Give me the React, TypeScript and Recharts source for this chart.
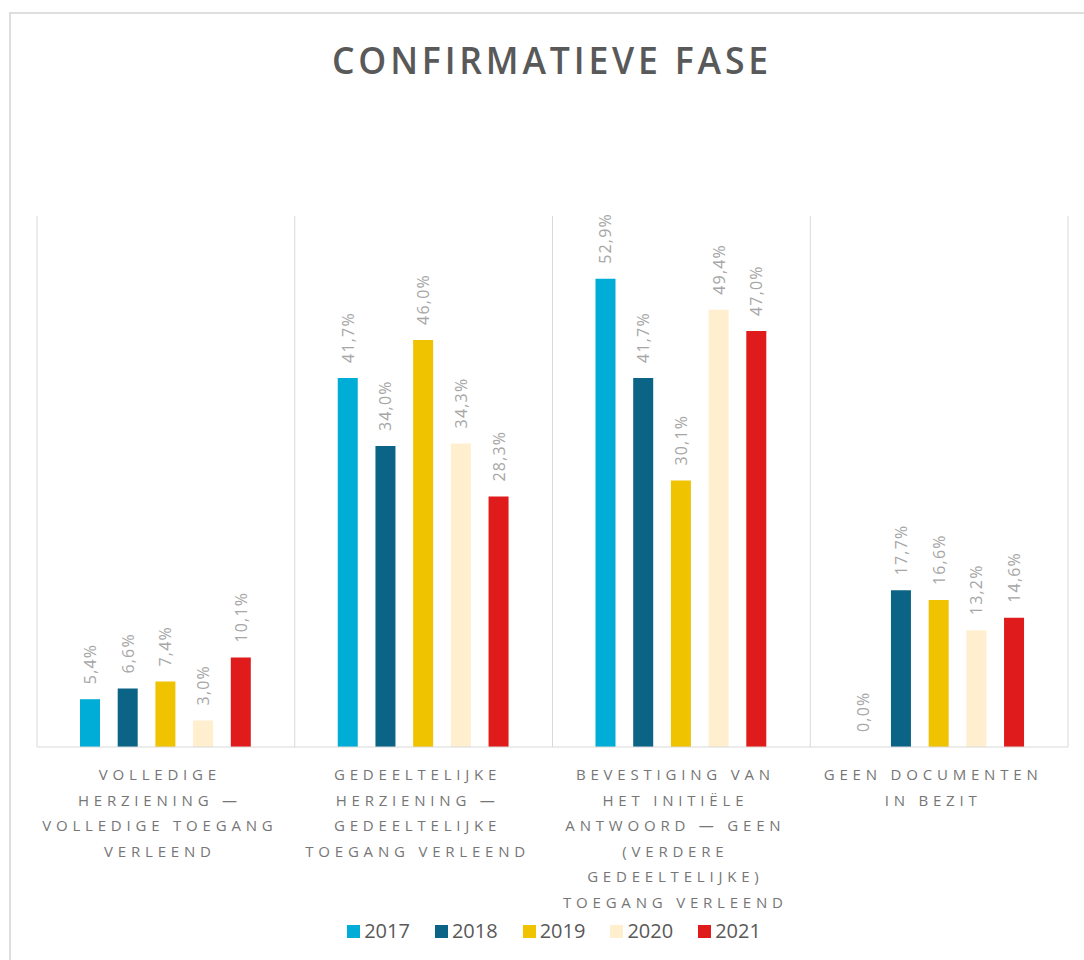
import React from "react";
import { BarChart, Bar, XAxis, YAxis, CartesianGrid, LabelList, Legend } from "recharts";

const categoryLines: string[][] = [
  ["VOLLEDIGE", "HERZIENING —", "VOLLEDIGE TOEGANG", "VERLEEND"],
  ["GEDEELTELIJKE", "HERZIENING —", "GEDEELTELIJKE", "TOEGANG VERLEEND"],
  ["BEVESTIGING VAN", "HET INITIËLE", "ANTWOORD — GEEN", "(VERDERE", "GEDEELTELIJKE)", "TOEGANG VERLEEND"],
  ["GEEN DOCUMENTEN", "IN BEZIT"],
];
const categories = categoryLines.map((l) => l.join(" "));

const years = ["2017", "2018", "2019", "2020", "2021"];
const values2017 = [5.4, 41.7, 52.9, 0.0];
const values2018 = [6.6, 34.0, 41.7, 17.7];
const values2019 = [7.4, 46.0, 30.1, 16.6];
const values2020 = [3.0, 34.3, 49.4, 13.2];
const values2021 = [10.1, 28.3, 47.0, 14.6];
const seriesValues = [values2017, values2018, values2019, values2020, values2021];
const colors = ["#00ADD6", "#0B6385", "#F0C300", "#FFEFCF", "#E01B1B"];
const title = "CONFIRMATIEVE FASE";

const data = categories.map((name, i) => {
  const row: Record<string, any> = { name, idx: i };
  years.forEach((y, s) => {
    row[y] = seriesValues[s][i];
  });
  return row;
});

const fmt = (v: number) => v.toFixed(1).replace(".", ",") + "%";

const ValueLabel = (props: any) => {
  const { x, y, width, height, value } = props;
  const cx = Number(x) + Number(width) / 2;
  const top = Math.min(Number(y), Number(y) + Number(height));
  const ty = top - 15;
  return (
    <text
      x={cx}
      y={ty}
      transform={`rotate(-90, ${cx}, ${ty})`}
      textAnchor="start"
      dominantBaseline="central"
      fill="#a6a6a6"
      fontSize={16}
      letterSpacing={1.2}
      fontFamily="'Open Sans', sans-serif"
    >
      {fmt(Number(value))}
    </text>
  );
};

const CategoryTick = (props: any) => {
  const { x, y, payload } = props;
  const lines = categoryLines[payload.index] ?? [String(payload.value)];
  return (
    <g>
      {lines.map((line, i) => (
        <text
          key={i}
          x={x - 6}
          y={y + 25 + i * 25.6}
          textAnchor="middle"
          fill="#767676"
          fontSize={15}
          letterSpacing={4.8}
          fontFamily="'Open Sans', sans-serif"
        >
          {line}
        </text>
      ))}
    </g>
  );
};

const LegendContent = () => (
  <div style={{ display: "flex", justifyContent: "center", alignItems: "center", gap: 25 }}>
    {years.map((y, i) => (
      <div key={y} style={{ display: "flex", alignItems: "center" }}>
        <span style={{ width: 13, height: 13, background: colors[i], display: "inline-block", marginRight: 4 }} />
        <span style={{ fontFamily: "'Open Sans', sans-serif", fontSize: 20, color: "#595959", lineHeight: "24px" }}>{y}</span>
      </div>
    ))}
  </div>
);

export default function App() {
  return (
    <div style={{ position: "fixed", left: 0, top: 0, width: 1084, height: 960, overflow: "hidden", background: "#fff" }}>
      <div
        style={{
          position: "absolute",
          left: 9,
          top: 12,
          width: 1200,
          height: 1100,
          borderLeft: "2px solid #dedede",
          borderTop: "2px solid #dedede",
        }}
      />
      <svg style={{ position: "absolute", left: 0, top: 0 }} width={1084} height={110}>
        <text
          x={552}
          y={74}
          textAnchor="middle"
          fill="#595959"
          fontSize={37}
          fontWeight={600}
          letterSpacing={4}
          fontFamily="'Open Sans', sans-serif"
          textLength={440}
          lengthAdjust="spacingAndGlyphs"
        >
          {title}
        </text>
      </svg>
      <div style={{ position: "absolute", left: 0, top: 0 }}>
        <BarChart
          width={1084}
          height={960}
          data={data}
          margin={{ top: 216, right: 16, bottom: 0, left: 37 }}
          barSize={20}
          barGap={17.7}
        >
          <CartesianGrid
            horizontal={false}
            stroke="#d9d9d9"
            verticalCoordinatesGenerator={({ offset }: any) =>
              Array.from({ length: categories.length + 1 }, (_, i) => offset.left + (i * offset.width) / categories.length)
            }
          />
          <XAxis
            dataKey="name"
            height={213}
            axisLine={{ stroke: "#d9d9d9" }}
            tickLine={false}
            interval={0}
            tick={<CategoryTick />}
          />
          <YAxis hide domain={[0, 60]} />
          {years.map((y, i) => (
            <Bar key={y} dataKey={y} fill={colors[i]} isAnimationActive={false} minPointSize={0.01}>
              <LabelList dataKey={y} content={<ValueLabel />} />
            </Bar>
          ))}
          <Legend
            verticalAlign="middle"
            layout="horizontal"
            content={<LegendContent />}
            wrapperStyle={{ top: 919, left: 12, width: 1084 }}
          />
        </BarChart>
      </div>
    </div>
  );
}
